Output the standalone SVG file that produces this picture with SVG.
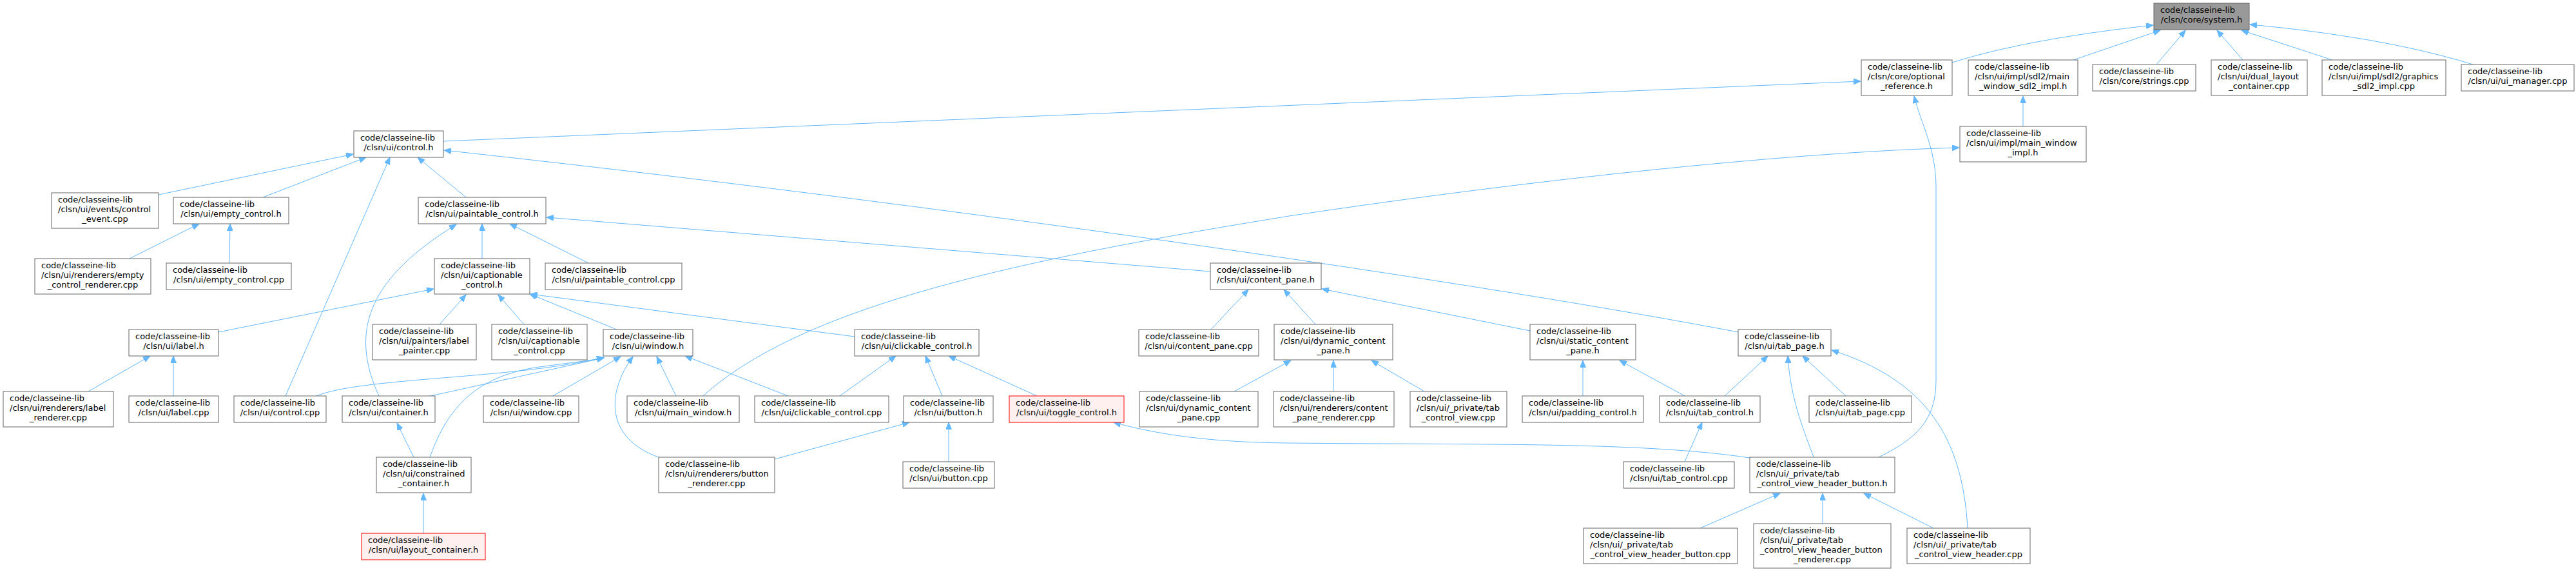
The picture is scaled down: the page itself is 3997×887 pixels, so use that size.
<svg xmlns="http://www.w3.org/2000/svg" width="3997" height="887" viewBox="0 0 3997 887">
<style>
rect{fill:#fff;stroke:#666;stroke-width:1}
.root rect{fill:#999}
.hl rect{fill:#FFF0F0;stroke:#F00}
text{font-family:"DejaVu Sans","Liberation Sans",sans-serif;font-size:13px;fill:#000}
.m{text-anchor:middle}
#edges path{fill:none;stroke:#63B8FF;stroke-width:1;marker-end:url(#ah)}
</style>
<defs>
<marker id="ah" markerUnits="userSpaceOnUse" markerWidth="12" markerHeight="9" refX="11" refY="4.5" orient="auto"><path d="M0,0 L11,4.5 L0,9 z" fill="#63B8FF" stroke="#63B8FF"/></marker>
</defs>
<rect x="0" y="0" width="3997" height="887" style="fill:#fff;stroke:none"/>
<g id="edges">
<path d="M3029,97 C3120,68 3240,50 3341,39"/>
<path d="M3217,93 L3352,47"/>
<path d="M3346,100 L3391,47"/>
<path d="M3480,93 L3440,47"/>
<path d="M3619,93 L3478,47"/>
<path d="M3837,100 C3740,70 3620,50 3491,38"/>
<path d="M3139,196 L3139,149"/>
<path d="M688,219 L2887,126"/>
<path d="M2915,709 C2975,680 3004,650 3004,590 L3004,290 C3004,230 2980,190 2970,149"/>
<path d="M246,302 L548,239"/>
<path d="M408,306 L568,244"/>
<path d="M443,614 L605,244"/>
<path d="M723,306 L648,244"/>
<path d="M2697,515 C2250,430 1400,310 689,233"/>
<path d="M201,401 L309,347"/>
<path d="M356,408 L357,347"/>
<path d="M748,401 L748,347"/>
<path d="M913,408 L791,347"/>
<path d="M588,614 C540,510 575,430 708,348"/>
<path d="M1878,421 L848,337"/>
<path d="M137,607 L233,552"/>
<path d="M269,614 L269,552"/>
<path d="M339,515 L673,448"/>
<path d="M682,503 L723,457"/>
<path d="M813,503 L773,457"/>
<path d="M957,511 L822,456"/>
<path d="M1326,522 L823,456"/>
<path d="M491,614 C560,585 800,588 937,554"/>
<path d="M668,614 L937,555"/>
<path d="M667,709 C695,630 740,585 830,570 C880,563 910,560 937,555"/>
<path d="M858,614 L963,553"/>
<path d="M1022,709 C940,680 940,610 982,553"/>
<path d="M1049,614 L1019,553"/>
<path d="M1223,614 L1063,552"/>
<path d="M642,709 L616,656"/>
<path d="M657,827 L657,765"/>
<path d="M1303,614 L1390,552"/>
<path d="M1462,614 L1436,552"/>
<path d="M1609,614 L1472,552"/>
<path d="M1202,712 L1411,655"/>
<path d="M1472,716 L1472,655"/>
<path d="M1091,614 C1250,470 1600,400 2000,335 C2400,275 2800,235 3040,229"/>
<path d="M1879,511 L1937,449"/>
<path d="M2041,503 L1992,449"/>
<path d="M2374,513 L2051,448"/>
<path d="M1915,607 L2003,559"/>
<path d="M2069,607 L2069,559"/>
<path d="M2210,607 L2128,559"/>
<path d="M2456,614 L2456,559"/>
<path d="M2614,614 L2513,559"/>
<path d="M2676,614 L2743,552"/>
<path d="M2814,709 C2800,670 2778,620 2774,552"/>
<path d="M2864,614 L2797,552"/>
<path d="M3053,819 C3045,680 2990,590 2842,543"/>
<path d="M2614,716 L2641,655"/>
<path d="M2715,710 C2550,685 2300,690 2000,687 C1870,686 1790,672 1728,655"/>
<path d="M2638,819 L2762,765"/>
<path d="M2828,812 L2828,765"/>
<path d="M3000,819 L2892,765"/>
</g>
<g id="system_h" class="root"><rect x="3342" y="5" width="148" height="41"/><text x="3352" y="20">code/classeine-lib</text><text class="m" x="3416" y="35">/clsn/core/system.h</text></g>
<g id="optional_reference_h"><rect x="2888" y="93" width="141" height="55"/><text x="2898" y="108">code/classeine-lib</text><text x="2898" y="123">/clsn/core/optional</text><text class="m" x="2958.5" y="138">_reference.h</text></g>
<g id="main_window_sdl2_impl_h"><rect x="3054" y="93" width="170" height="55"/><text x="3064" y="108">code/classeine-lib</text><text x="3064" y="123">/clsn/ui/impl/sdl2/main</text><text class="m" x="3139" y="138">_window_sdl2_impl.h</text></g>
<g id="strings_cpp"><rect x="3247" y="100" width="160" height="41"/><text x="3257" y="115">code/classeine-lib</text><text class="m" x="3327" y="130">/clsn/core/strings.cpp</text></g>
<g id="dual_layout_container_cpp"><rect x="3431" y="93" width="149" height="55"/><text x="3441" y="108">code/classeine-lib</text><text x="3441" y="123">/clsn/ui/dual_layout</text><text class="m" x="3505.5" y="138">_container.cpp</text></g>
<g id="graphics_sdl2_impl_cpp"><rect x="3603" y="93" width="192" height="55"/><text x="3613" y="108">code/classeine-lib</text><text x="3613" y="123">/clsn/ui/impl/sdl2/graphics</text><text class="m" x="3699" y="138">_sdl2_impl.cpp</text></g>
<g id="ui_manager_cpp"><rect x="3819" y="100" width="175" height="41"/><text x="3829" y="115">code/classeine-lib</text><text class="m" x="3906.5" y="130">/clsn/ui/ui_manager.cpp</text></g>
<g id="main_window_impl_h"><rect x="3041" y="196" width="196" height="55"/><text x="3051" y="211">code/classeine-lib</text><text x="3051" y="226">/clsn/ui/impl/main_window</text><text class="m" x="3139" y="241">_impl.h</text></g>
<g id="control_h"><rect x="549" y="203" width="139" height="41"/><text x="559" y="218">code/classeine-lib</text><text class="m" x="618.5" y="233">/clsn/ui/control.h</text></g>
<g id="control_event_cpp"><rect x="80" y="299" width="166" height="55"/><text x="90" y="314">code/classeine-lib</text><text x="90" y="329">/clsn/ui/events/control</text><text class="m" x="163" y="344">_event.cpp</text></g>
<g id="empty_control_h"><rect x="269" y="306" width="179" height="41"/><text x="279" y="321">code/classeine-lib</text><text class="m" x="358.5" y="336">/clsn/ui/empty_control.h</text></g>
<g id="paintable_control_h"><rect x="649" y="306" width="198" height="41"/><text x="659" y="321">code/classeine-lib</text><text class="m" x="748" y="336">/clsn/ui/paintable_control.h</text></g>
<g id="empty_control_renderer_cpp"><rect x="54" y="401" width="180" height="55"/><text x="64" y="416">code/classeine-lib</text><text x="64" y="431">/clsn/ui/renderers/empty</text><text class="m" x="144" y="446">_control_renderer.cpp</text></g>
<g id="empty_control_cpp"><rect x="258" y="408" width="194" height="41"/><text x="268" y="423">code/classeine-lib</text><text class="m" x="355" y="438">/clsn/ui/empty_control.cpp</text></g>
<g id="captionable_control_h"><rect x="674" y="401" width="148" height="55"/><text x="684" y="416">code/classeine-lib</text><text x="684" y="431">/clsn/ui/captionable</text><text class="m" x="748" y="446">_control.h</text></g>
<g id="paintable_control_cpp"><rect x="846" y="408" width="212" height="41"/><text x="856" y="423">code/classeine-lib</text><text class="m" x="952" y="438">/clsn/ui/paintable_control.cpp</text></g>
<g id="content_pane_h"><rect x="1878" y="408" width="172" height="41"/><text x="1888" y="423">code/classeine-lib</text><text class="m" x="1964" y="438">/clsn/ui/content_pane.h</text></g>
<g id="label_h"><rect x="200" y="511" width="139" height="41"/><text x="210" y="526">code/classeine-lib</text><text class="m" x="269.5" y="541">/clsn/ui/label.h</text></g>
<g id="label_painter_cpp"><rect x="578" y="503" width="161" height="55"/><text x="588" y="518">code/classeine-lib</text><text x="588" y="533">/clsn/ui/painters/label</text><text class="m" x="658.5" y="548">_painter.cpp</text></g>
<g id="captionable_control_cpp"><rect x="763" y="503" width="148" height="55"/><text x="773" y="518">code/classeine-lib</text><text x="773" y="533">/clsn/ui/captionable</text><text class="m" x="837" y="548">_control.cpp</text></g>
<g id="window_h"><rect x="936" y="511" width="139" height="41"/><text x="946" y="526">code/classeine-lib</text><text class="m" x="1005.5" y="541">/clsn/ui/window.h</text></g>
<g id="clickable_control_h"><rect x="1326" y="511" width="193" height="41"/><text x="1336" y="526">code/classeine-lib</text><text class="m" x="1422.5" y="541">/clsn/ui/clickable_control.h</text></g>
<g id="content_pane_cpp"><rect x="1767" y="511" width="186" height="41"/><text x="1777" y="526">code/classeine-lib</text><text class="m" x="1860" y="541">/clsn/ui/content_pane.cpp</text></g>
<g id="dynamic_content_pane_h"><rect x="1977" y="503" width="184" height="55"/><text x="1987" y="518">code/classeine-lib</text><text x="1987" y="533">/clsn/ui/dynamic_content</text><text class="m" x="2069" y="548">_pane.h</text></g>
<g id="static_content_pane_h"><rect x="2374" y="503" width="164" height="55"/><text x="2384" y="518">code/classeine-lib</text><text x="2384" y="533">/clsn/ui/static_content</text><text class="m" x="2456" y="548">_pane.h</text></g>
<g id="tab_page_h"><rect x="2697" y="511" width="144" height="41"/><text x="2707" y="526">code/classeine-lib</text><text class="m" x="2769" y="541">/clsn/ui/tab_page.h</text></g>
<g id="label_renderer_cpp"><rect x="5" y="607" width="171" height="55"/><text x="15" y="622">code/classeine-lib</text><text x="15" y="637">/clsn/ui/renderers/label</text><text class="m" x="90.5" y="652">_renderer.cpp</text></g>
<g id="label_cpp"><rect x="200" y="614" width="139" height="41"/><text x="210" y="629">code/classeine-lib</text><text class="m" x="269.5" y="644">/clsn/ui/label.cpp</text></g>
<g id="control_cpp"><rect x="363" y="614" width="143" height="41"/><text x="373" y="629">code/classeine-lib</text><text class="m" x="434.5" y="644">/clsn/ui/control.cpp</text></g>
<g id="container_h"><rect x="531" y="614" width="144" height="41"/><text x="541" y="629">code/classeine-lib</text><text class="m" x="603" y="644">/clsn/ui/container.h</text></g>
<g id="window_cpp"><rect x="750" y="614" width="148" height="41"/><text x="760" y="629">code/classeine-lib</text><text class="m" x="824" y="644">/clsn/ui/window.cpp</text></g>
<g id="main_window_h"><rect x="973" y="614" width="174" height="41"/><text x="983" y="629">code/classeine-lib</text><text class="m" x="1060" y="644">/clsn/ui/main_window.h</text></g>
<g id="clickable_control_cpp"><rect x="1171" y="614" width="208" height="41"/><text x="1181" y="629">code/classeine-lib</text><text class="m" x="1275" y="644">/clsn/ui/clickable_control.cpp</text></g>
<g id="button_h"><rect x="1402" y="614" width="139" height="41"/><text x="1412" y="629">code/classeine-lib</text><text class="m" x="1471.5" y="644">/clsn/ui/button.h</text></g>
<g id="toggle_control_h" class="hl"><rect x="1566" y="614" width="178" height="41"/><text x="1576" y="629">code/classeine-lib</text><text class="m" x="1655" y="644">/clsn/ui/toggle_control.h</text></g>
<g id="dynamic_content_pane_cpp"><rect x="1768" y="607" width="184" height="55"/><text x="1778" y="622">code/classeine-lib</text><text x="1778" y="637">/clsn/ui/dynamic_content</text><text class="m" x="1860" y="652">_pane.cpp</text></g>
<g id="content_pane_renderer_cpp"><rect x="1976" y="607" width="187" height="55"/><text x="1986" y="622">code/classeine-lib</text><text x="1986" y="637">/clsn/ui/renderers/content</text><text class="m" x="2069.5" y="652">_pane_renderer.cpp</text></g>
<g id="tab_control_view_cpp"><rect x="2188" y="607" width="150" height="55"/><text x="2198" y="622">code/classeine-lib</text><text x="2198" y="637">/clsn/ui/_private/tab</text><text class="m" x="2263" y="652">_control_view.cpp</text></g>
<g id="padding_control_h"><rect x="2362" y="614" width="188" height="41"/><text x="2372" y="629">code/classeine-lib</text><text class="m" x="2456" y="644">/clsn/ui/padding_control.h</text></g>
<g id="tab_control_h"><rect x="2575" y="614" width="156" height="41"/><text x="2585" y="629">code/classeine-lib</text><text class="m" x="2653" y="644">/clsn/ui/tab_control.h</text></g>
<g id="tab_page_cpp"><rect x="2807" y="614" width="159" height="41"/><text x="2817" y="629">code/classeine-lib</text><text class="m" x="2886.5" y="644">/clsn/ui/tab_page.cpp</text></g>
<g id="constrained_container_h"><rect x="584" y="709" width="147" height="55"/><text x="594" y="724">code/classeine-lib</text><text x="594" y="739">/clsn/ui/constrained</text><text class="m" x="657.5" y="754">_container.h</text></g>
<g id="button_renderer_cpp"><rect x="1022" y="709" width="180" height="55"/><text x="1032" y="724">code/classeine-lib</text><text x="1032" y="739">/clsn/ui/renderers/button</text><text class="m" x="1112" y="754">_renderer.cpp</text></g>
<g id="button_cpp"><rect x="1401" y="716" width="142" height="41"/><text x="1411" y="731">code/classeine-lib</text><text class="m" x="1472" y="746">/clsn/ui/button.cpp</text></g>
<g id="tab_control_cpp"><rect x="2519" y="716" width="172" height="41"/><text x="2529" y="731">code/classeine-lib</text><text class="m" x="2605" y="746">/clsn/ui/tab_control.cpp</text></g>
<g id="tab_control_view_header_button_h"><rect x="2715" y="709" width="225" height="55"/><text x="2725" y="724">code/classeine-lib</text><text x="2725" y="739">/clsn/ui/_private/tab</text><text class="m" x="2827.5" y="754">_control_view_header_button.h</text></g>
<g id="layout_container_h" class="hl"><rect x="561" y="827" width="192" height="41"/><text x="571" y="842">code/classeine-lib</text><text class="m" x="657" y="857">/clsn/ui/layout_container.h</text></g>
<g id="tab_control_view_header_button_cpp"><rect x="2457" y="819" width="239" height="55"/><text x="2467" y="834">code/classeine-lib</text><text x="2467" y="849">/clsn/ui/_private/tab</text><text class="m" x="2576.5" y="864">_control_view_header_button.cpp</text></g>
<g id="tab_control_view_header_button_renderer_cpp"><rect x="2721" y="812" width="213" height="69"/><text x="2731" y="827">code/classeine-lib</text><text x="2731" y="842">/clsn/ui/_private/tab</text><text x="2731" y="857">_control_view_header_button</text><text class="m" x="2827.5" y="872">_renderer.cpp</text></g>
<g id="tab_control_view_header_cpp"><rect x="2959" y="819" width="191" height="55"/><text x="2969" y="834">code/classeine-lib</text><text x="2969" y="849">/clsn/ui/_private/tab</text><text class="m" x="3054.5" y="864">_control_view_header.cpp</text></g>
</svg>
